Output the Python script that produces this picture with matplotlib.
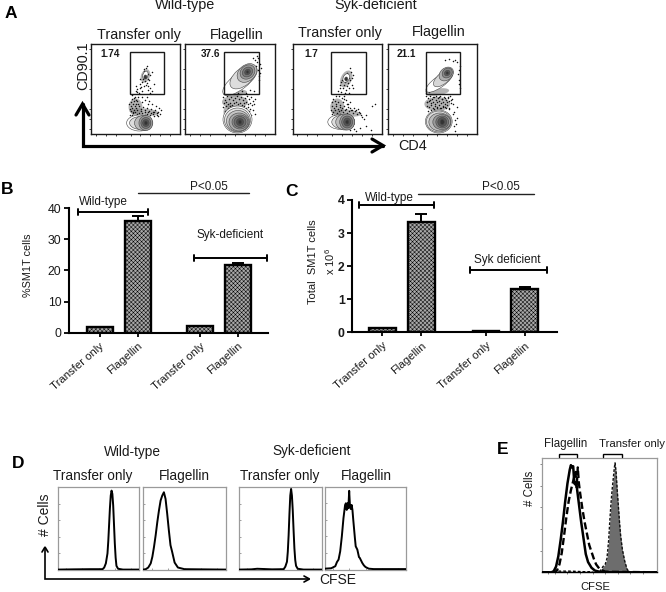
import matplotlib
matplotlib.use("Agg")
import matplotlib.pyplot as plt
from matplotlib.patches import Ellipse, Rectangle
import numpy as np

plt.rcParams['font.family'] = ['Liberation Sans', 'DejaVu Sans']
plt.rcParams['mathtext.default'] = 'regular'
plt.rcParams['hatch.linewidth'] = 0.35

W, H = 666, 592
INK = '#1a1a1a'

# ---------- panels B / C ----------
categories = ['Transfer only', 'Flagellin', 'Transfer only', 'Flagellin']
pct_values = [1.8, 36.0, 2.0, 21.8]
pct_errors = [0.05, 1.6, 0.15, 0.5]
pct_ticks = [0, 10, 20, 30, 40]
total_values = [0.12, 3.33, 0.04, 1.3]
total_errors = [0.01, 0.24, 0.01, 0.07]
total_ticks = [0, 1, 2, 3, 4]

# ---------- panel A: percentages in the gates ----------
gate_percent = ['1.74', '37.6', '1.7', '21.1']

# contour levels: centre x, centre y, width, height, angle, outermost first
lower_p1 = [(49, 79, 26, 16, 0), (50.5, 79, 23, 13, 0), (53, 79, 18, 15, 0), (55.5, 79, 14, 15, 0),
            (55.5, 79, 10, 11, 0), (55.5, 79, 6.5, 7, 0), (55.5, 79, 3, 4, 0)]
upper_p1 = [(55, 31, 5, 8, 20), (55, 33, 3, 4, 0)]
lower_p2 = [(52.5, 75.5, 29, 27, 0), (52.5, 76, 26, 24, 0), (53, 77, 23, 21, 0), (54, 78, 20, 18, 0),
            (55, 78, 16, 14, 0), (55, 78, 12, 11, 0), (55, 78, 7, 7, 0), (55, 78, 3, 4, 0)]
upper_p2 = [(55, 37, 42, 16, -38), (58, 33, 31, 17, -40), (62, 29, 22, 16, -40), (62.5, 28, 16, 13, -40),
            (62.5, 28, 11, 9, -40), (62.5, 28, 6, 5, -40), (62.5, 28, 2.5, 2.5, 0)]
lower_p3 = [(49, 78, 27, 15, 0), (51, 78, 23, 14, 0), (53, 78, 19, 16, 0), (55, 78, 15, 16, 0),
            (55, 78, 11, 12, 0), (55, 78, 7, 8, 0), (55, 78, 3, 4, 0)]
upper_p3 = [(54, 34, 6, 9, 25), (54, 35, 3, 4, 0)]
lower_p4 = [(51.5, 77.5, 27, 23, 0), (51.5, 77.5, 25, 21, 0), (52.5, 78, 22, 18, 0), (54.5, 78, 18, 15, 0),
            (55, 78, 13, 12, 0), (55, 78, 9, 9, 0), (55, 78, 4, 5, 0)]
upper_p4 = [(52, 38, 32, 11, -35), (56, 34, 24, 11, -40), (59, 30, 16, 12, -40), (60, 29, 11, 9, -40),
            (60, 29, 6, 5, -40), (60, 29, 2.5, 2.5, 0)]

# regions so crowded with dots that they read as grey (x, y, width, height, angle)
crowd_p1 = [(45, 63, 14, 17, 0), (54, 68, 30, 7, 5), (55, 32, 9, 14, 20)]
crowd_p2 = [(50, 49, 24, 7, -5), (50, 58, 26, 13, 0), (44, 68, 11, 16, 0)]
crowd_p3 = [(45, 63, 14, 17, 0), (54, 69, 30, 7, 5), (54, 35, 11, 18, 25)]
crowd_p4 = [(50, 48, 24, 7, -8), (50, 60, 26, 14, 0)]
flow_crowds = [crowd_p1, crowd_p2, crowd_p3, crowd_p4]

# cell dots (x, y within a 90 x 90 panel)
dots_p1_x = [40, 42, 44, 46, 41, 43, 45, 47, 49, 51, 53, 55, 57, 59, 61, 63, 65, 67, 40.5, 42.5, 44.5, 46.5, 48.5,
             50.5, 52, 54.5, 56.5, 58, 60.5, 62.5, 64, 66.5, 68, 70, 39, 41.5, 43.5, 45.5, 38.5, 40, 42, 44, 47,
             48, 41, 43, 47.5, 52, 57.5, 62, 66, 69, 71, 39.5, 41, 45, 49, 55, 60, 64, 68, 45, 47, 50, 52, 54, 56,
             58, 60, 50, 52, 55, 57, 59, 51, 53, 56, 58, 60, 62, 54, 56, 50, 47, 45, 58, 60, 62, 64, 52, 55, 57, 59,
             53, 54, 56, 57, 58, 49]
dots_p1_y = [58, 60, 62, 60, 64, 66, 64, 66, 62, 65, 63, 66, 64, 67, 65, 68, 66, 69, 67, 69, 68, 70, 68.5,
             66.5, 69, 68, 70, 68, 69, 70, 67.5, 71, 68, 70, 71, 55, 57, 56, 60, 62, 68, 53, 57, 60, 51, 54, 53, 58,
             60, 60, 62, 64, 66, 65, 71, 72, 72, 71, 71, 72, 72, 47, 45, 44, 47, 42, 41, 46, 44, 40, 38, 37, 39, 36,
             43, 35, 33, 35, 31, 28, 27, 24, 35, 48, 42, 42, 49, 47, 40, 53, 56, 53, 57, 30, 25, 28, 22, 30, 49]
dots_p2_x = [38, 40, 42, 44, 46, 48, 50, 52, 54, 56, 58, 60, 62, 64, 66, 68, 70, 39, 41, 43, 45, 47, 49, 51, 53, 55,
             57, 59, 61, 63, 65, 67, 69, 38, 40.5, 42.5, 44.5, 46.5, 48.5, 50.5, 52.5, 54.5, 56.5, 58.5, 60.5, 62.5,
             64.5, 40, 42, 45, 48, 52, 56, 60, 64, 68, 39, 41, 44, 46, 50, 54, 58, 62, 66, 70, 42, 44, 47, 50, 53,
             57, 61, 65, 69, 71, 73, 75, 74, 72, 75, 73, 76, 74, 72, 70, 68, 41, 43, 45, 42, 44, 47, 49, 51, 53]
dots_p2_y = [53, 56, 52, 55, 53, 56, 54, 52, 55, 53, 56, 54, 52, 55, 53, 57, 55, 59, 58, 60, 59, 61, 59, 58, 60, 59,
             61, 59, 58, 60, 59, 61, 60, 63, 62, 64, 62, 65, 63, 62, 64, 63, 65, 62, 64, 63, 65, 67, 68, 66, 69, 67,
             66, 68, 67, 66, 72, 75, 72, 74, 71, 70, 70, 71, 71, 70, 48, 46, 48, 46, 49, 47, 49, 46, 47, 22, 26, 20,
             32, 18, 29, 14, 24, 36, 12, 16, 14, 45, 47, 44, 42, 40, 42, 39, 37, 41]
dots_p3_x = [39, 41, 43, 45, 47, 49, 51, 53, 55, 57, 59, 61, 63, 65, 67, 69, 40, 42, 44, 46, 48, 50, 52, 54, 56, 58,
             60, 62, 64, 66, 68, 39.5, 41.5, 43.5, 45.5, 47.5, 40, 41, 43, 44, 46, 48, 51, 55, 50, 54, 58, 47, 52,
             44, 49, 53, 48, 51, 54, 52, 55, 57, 53, 56, 58, 60, 54, 57, 59, 61, 55, 58, 50, 48, 46, 57, 61, 60, 49,
             52, 70, 72, 74, 68, 74, 80, 79, 83, 64, 62, 58, 56, 52]
dots_p3_y = [66, 68, 66, 69, 67, 66, 68, 66, 69, 67, 66, 69, 67, 70, 68, 71, 62, 64, 62, 65, 63, 64, 62, 65, 63, 64,
             66, 64, 66, 65, 69, 70, 71, 71, 72, 70, 58, 55, 57, 60, 58, 61, 58, 60, 54, 56, 58, 52, 52, 52, 48, 49,
             44, 44, 46, 41, 42, 44, 38, 39, 36, 41, 32, 34, 28, 31, 29, 24, 36, 41, 47, 49, 44, 34, 38, 32, 73, 75,
             71, 84, 82, 62, 86, 60, 87, 85, 86, 60, 55]
dots_p4_x = [39, 41, 43, 45, 47, 49, 51, 53, 55, 57, 59, 61, 63, 65, 40, 42, 44, 46, 48, 50, 52, 54, 56, 58, 60, 62,
             64, 66, 39.5, 41.5, 43.5, 45.5, 47.5, 49.5, 51.5, 53.5, 55.5, 57.5, 59.5, 61.5, 40, 43, 46, 49, 52, 55,
             58, 61, 64, 41, 44, 47, 50, 53, 56, 59, 62, 66, 68, 67, 69, 68, 70, 67, 70, 72, 71, 73, 72, 70, 68, 66,
             62, 58, 72, 73, 38.5, 40, 42, 44, 46, 48, 43, 45, 47, 49, 51, 54, 57, 60]
dots_p4_y = [52, 54, 52, 55, 53, 56, 54, 52, 55, 53, 56, 54, 52, 55, 58, 57, 59, 58, 60, 58, 57, 59, 58, 60, 58, 57,
             59, 60, 62, 63, 61, 64, 62, 63, 61, 64, 62, 63, 61, 64, 58, 56, 53, 52, 53, 55, 54, 53, 56, 67, 66, 65,
             64, 64, 63, 64, 65, 70, 76, 82, 80, 87, 74, 68, 63, 26, 30, 22, 36, 18, 16, 17, 15, 16, 40, 44, 47, 44,
             48, 45, 46, 44, 42, 43, 40, 42, 39, 37, 39, 36]
flow_dots = [(dots_p1_x, dots_p1_y), (dots_p2_x, dots_p2_y), (dots_p3_x, dots_p3_y), (dots_p4_x, dots_p4_y)]
flow_contours = [(lower_p1, upper_p1), (lower_p2, upper_p2), (lower_p3, upper_p3), (lower_p4, upper_p4)]

# ---------- panel D: CFSE histograms (percent of panel width, percent of height) ----------
d1_x = [0, 20, 40, 55, 57, 59, 61, 62, 63, 64, 65, 66, 67, 68, 69, 70, 71, 72, 74, 80, 100]
d1_y = [0.5, 0.8, 1, 1, 3, 8, 20, 35, 55, 75, 90, 96, 92, 78, 55, 32, 15, 5, 1.5, 0.5, 0.5]
d2_x = [0, 3, 6, 9, 11, 13, 15, 17, 19, 21, 23, 25, 27, 29, 31, 33, 35, 38, 42, 50, 100]
d2_y = [0.5, 1, 3, 8, 16, 28, 42, 58, 72, 84, 90, 94, 86, 68, 48, 30, 22, 9, 3, 1, 0.5]
d3_x = [0, 15, 22, 40, 54, 56, 58, 59, 60, 61, 62, 63, 64, 65, 66, 67, 68, 69, 71, 78, 100]
d3_y = [0.5, 0.8, 1.5, 0.8, 1, 4, 10, 22, 42, 68, 90, 98, 90, 72, 48, 26, 12, 5, 1.5, 0.5, 0.5]
d4_x = [0, 8, 13, 15, 17, 19, 21, 23, 25, 26, 27, 28, 29, 30, 31, 32, 33, 34, 35, 37, 38, 40, 42, 43, 46, 48, 50, 54, 60, 100]
d4_y = [1, 1.5, 4, 9, 12, 22, 40, 62, 78, 80, 72, 80, 74, 95, 76, 73, 78, 72, 60, 38, 28, 24, 15, 14, 8, 5, 3, 1, 0.5, 0.5]
hist_curves = [(d1_x, d1_y), (d2_x, d2_y), (d3_x, d3_y), (d4_x, d4_y)]

# ---------- panel E ----------
e_solid_x = [0, 8, 10, 12, 14, 16, 18, 20, 22, 24, 25, 26, 27, 28, 30, 32, 34, 36, 38, 40, 43, 46, 50, 60, 100]
e_solid_y = [0, 0, 1, 5, 14, 28, 44, 62, 78, 90, 94, 92, 93, 78, 76, 60, 44, 30, 16, 9, 4, 1.5, 0.5, 0, 0]
e_dash_x = [0, 11, 13, 15, 17, 19, 21, 23, 25, 27, 29, 30, 31, 32, 33, 35, 37, 39, 41, 43, 45, 47, 50, 55, 100]
e_dash_y = [0, 0, 2, 7, 17, 32, 48, 62, 72, 80, 88, 74, 92, 78, 70, 56, 44, 34, 24, 18, 12, 7, 3, 0.5, 0]
e_grey_x = [0, 50, 53, 55, 56.5, 58, 59, 60, 61, 62, 63, 63.6, 64.5, 65.5, 66.5, 67.5, 68.5, 70, 72, 74, 76, 100]
e_grey_y = [0, 0, 5, 7, 12, 28, 45, 60, 72, 82, 92, 96, 88, 72, 58, 44, 32, 20, 10, 3, 0, 0]
e_base_x = [14, 25, 37, 44]
e_base_y = [1, 1, 0.5, 0.5]

fig = plt.figure(figsize=(W / 100, H / 100), dpi=100, facecolor='white')


def px_axes(x0, y0, x1, y1, **kw):
    return fig.add_axes([x0 / W, 1 - y1 / H, (x1 - x0) / W, (y1 - y0) / H], **kw)


# ---------- flow panels ----------
flow_boxes = [(91, 44, 180, 134), (185, 44, 275, 134), (292.5, 44, 382, 134), (387.7, 44, 477, 134)]
gates_x = [39, 39, 39, 38.5]
for box, (dx, dy), (low, up), crowd, pct, gx in zip(flow_boxes, flow_dots, flow_contours, flow_crowds,
                                                    gate_percent, gates_x):
    ax = px_axes(*box)
    ax.set_xlim(0, 90)
    ax.set_ylim(90, 0)
    for s in ax.spines.values():
        s.set_linewidth(1.0)
        s.set_color(INK)
    ax.set_xticks([5, 15, 25, 40, 50, 60, 70, 80])
    ax.set_yticks([5, 25, 45, 65, 75, 85])
    ax.set_xticklabels([])
    ax.set_yticklabels([])
    ax.tick_params(length=1.5, width=0.6, direction='out', color=INK, pad=1)
    for (cx, cy, w, h, ang) in crowd:
        ax.add_patch(Ellipse((cx, cy), w, h, angle=ang, fc='#8a8a8a', ec='none', alpha=0.65, zorder=1))
    ax.scatter(dx, dy, s=1.2, c='#111111', linewidths=0, zorder=2)
    for level in (low, up):
        shades = np.linspace(1.0, 0.2, len(level))
        for (cx, cy, w, h, ang), g in zip(level, shades):
            ax.add_patch(Ellipse((cx, cy), w, h, angle=ang, fc=str(g), ec='#444444', lw=0.4, zorder=3))
    ax.add_patch(Rectangle((gx, 7.5), 34.5, 42.5, fill=False, ec=INK, lw=1.0, zorder=4))
    ax.text(19 if pct != '37.6' else 26, 10, pct, fontsize=7.2, fontweight='bold', ha='center', va='center', color=INK)


# ---------- bars ----------
def bar_panel(box, xlim, gap, values, errors, ticks, ymax, bold):
    ax = px_axes(*box)
    pos = np.arange(4, dtype=float) + np.array([0, 0, gap, gap])
    ax.bar(pos, values, width=0.68, facecolor='#a8a8a8', edgecolor='black', linewidth=1.7,
           hatch='xxxxxxxx', zorder=2)
    ax.errorbar(pos, values, yerr=[np.zeros(4), errors], fmt='none', ecolor='black', elinewidth=1.4,
                capsize=4.3, capthick=1.4, zorder=1)
    ax.set_xlim(*xlim)
    ax.set_ylim(0, ymax)
    for s in ('top', 'right'):
        ax.spines[s].set_visible(False)
    for s in ('left', 'bottom'):
        ax.spines[s].set_linewidth(1.5)
    ax.set_yticks(ticks)
    ax.set_xticks(pos)
    ax.set_xticklabels(categories, rotation=41, ha='right', rotation_mode='anchor', fontsize=8.2, color=INK)
    ax.tick_params(axis='y', length=3.5, width=1.3, labelsize=8.8, pad=1.5, labelcolor=INK)
    ax.tick_params(axis='x', length=3, width=1.3, pad=3)
    if bold:
        for t in ax.get_yticklabels():
            t.set_fontweight('bold')
    return ax


bar_panel((68.5, 208.3, 268, 332.7), (-0.82, 4.42), 0.63, pct_values, pct_errors, pct_ticks, 40, False)
bar_panel((351.7, 200, 556.7, 332.3), (-0.79, 4.47), 0.65, total_values, total_errors, total_ticks, 4, True)

# ---------- histograms ----------
hist_boxes = [(57.7, 487.3, 139.3, 570), (143.3, 487.3, 225.7, 570), (239, 487.3, 321.7, 570), (324.7, 486.7, 406.3, 569.5)]
for box, (hx, hy) in zip(hist_boxes, hist_curves):
    ax = px_axes(*box)
    ax.set_xlim(0, 100)
    ax.set_ylim(0, 100)
    ax.plot(hx, hy, color='black', lw=1.4, solid_joinstyle='round', zorder=3)
    for s in ax.spines.values():
        s.set_color('#9a9a9a')
        s.set_linewidth(0.9)
    ax.set_xticks([10, 30, 50, 70, 90])
    ax.set_yticks([20, 40, 60, 80])
    ax.set_xticklabels([])
    ax.set_yticklabels([])
    ax.tick_params(length=1.2, width=0.5, color='#777777', direction='in')

ax = px_axes(542.3, 458.3, 656.7, 572.3)
ax.set_xlim(0, 100)
ax.set_ylim(0, 100)
ax.fill_between(e_grey_x, e_grey_y, color='#6d6d6d', lw=0, zorder=2)
ax.plot(e_grey_x, e_grey_y, color='#111111', lw=1.0, ls=(0, (2, 1.2)), zorder=3)
ax.plot(e_dash_x, e_dash_y, color='black', lw=1.7, ls=(0, (3, 1.4)), zorder=4)
ax.plot(e_solid_x, e_solid_y, color='black', lw=1.8, zorder=5)
ax.plot(e_base_x, e_base_y, color='black', lw=1.0, ls=(0, (2, 1.5)), zorder=5)
for s in ('left', 'top', 'right'):
    ax.spines[s].set_color('#9a9a9a')
    ax.spines[s].set_linewidth(0.9)
ax.spines['bottom'].set_color('black')
ax.spines['bottom'].set_linewidth(1.0)
ax.set_xticks([5, 11, 22, 33, 44, 55, 66, 77, 88])
ax.set_yticks([19, 38, 57, 76, 95])
ax.set_xticklabels([])
ax.set_yticklabels([])
ax.tick_params(length=1.5, width=0.5, color='#555555', direction='out')

# ---------- overlay: annotations in pixel coordinates ----------
ov = fig.add_axes([0, 0, 1, 1], zorder=20)
ov.set_xlim(0, W)
ov.set_ylim(H, 0)
ov.axis('off')
ov.patch.set_alpha(0)


def T(x, y, s, size=10.4, **kw):
    kw.setdefault('ha', 'center')
    kw.setdefault('va', 'center')
    kw.setdefault('color', INK)
    ov.text(x, y, s, fontsize=size, **kw)


for x, y, s in [(5, 13, 'A'), (1, 190, 'B'), (285, 191, 'C'), (12, 463.5, 'D'), (497, 449, 'E')]:
    T(x, y, s, size=12.5, fontweight='bold', ha='left', color='black')

T(185, 5.5, 'Wild-type')
T(375.5, 5.5, 'Syk-deficient')
T(139, 35, 'Transfer only')
T(237, 34.5, 'Flagellin')
T(340, 33.5, 'Transfer only')
T(438.7, 32, 'Flagellin')
T(83, 65.5, 'CD90.1', rotation=90)
T(413, 146, 'CD4')

T(28, 265, '%SM1T cells', size=7.8, rotation=90)
T(103, 202, 'Wild-type', size=8.5)
T(209, 187.3, 'P<0.05', size=8.5)
T(230, 235.3, 'Syk-deficient', size=8.5)
T(389, 197.7, 'Wild-type', size=8.5)
T(500.7, 187.3, 'P<0.05', size=8.5)
T(507.3, 259.7, 'Syk deficient', size=8.5)
T(313, 261.7, 'Total  SM1T cells', size=8, rotation=90)
T(330, 261.7, 'x 10$^{6}$', size=8, rotation=90)

T(132.7, 452, 'Wild-type', size=9.8)
T(312, 451, 'Syk-deficient', size=9.8)
T(92.3, 475.7, 'Transfer only', size=9.8)
T(184, 475.7, 'Flagellin', size=9.8)
T(280, 475.7, 'Transfer only', size=9.8)
T(366.7, 475.7, 'Flagellin', size=9.8)
T(45, 515, '# Cells', size=10, rotation=90)
T(338, 580, 'CFSE', size=10)

T(565.7, 444.3, 'Flagellin', size=8.3)
T(631.7, 444.3, 'Transfer only', size=8.2)
T(530, 488, '# Cells', size=8.3, rotation=90)
T(595.7, 586.7, 'CFSE', size=8.1)


def L(xs, ys, lw=1.2, color='black', cap='round'):
    ov.plot(xs, ys, color=color, lw=lw, solid_capstyle=cap, solid_joinstyle='miter')


def bracket(x0, x1, y, lw=1.4, tick=2.8):
    L([x0, x1], [y, y], lw)
    L([x0, x0], [y - tick, y + tick], lw)
    L([x1, x1], [y - tick, y + tick], lw)


bracket(77.7, 147.7, 212)
bracket(194, 266.7, 258)
bracket(359.3, 434.3, 205)
bracket(470.3, 547.3, 269.7)
L([138, 249], [193, 193], 1.0, '#222222')
L([418.3, 534], [193.7, 193.7], 1.0, '#222222')

# panel A arrows
L([82.5, 82.5, 383], [104, 145.5, 145.5], 2.3)
L([76, 82.5, 89], [115, 104, 115], 2.3)
L([372, 383, 372], [139, 145.5, 152], 2.3)
# panel D arrows
L([45, 45, 309], [548, 579, 579], 1.2)
L([42, 45, 48], [552, 547, 552], 1.2)
L([304, 309.5, 304], [576, 579, 582], 1.2)
# panel E brackets
for x0, x1 in [(558.5, 577), (603, 621.5)]:
    L([x0, x0, x1, x1], [456.5, 454, 454, 456.5], 1.0)

fig.savefig('out.png', dpi=100)
